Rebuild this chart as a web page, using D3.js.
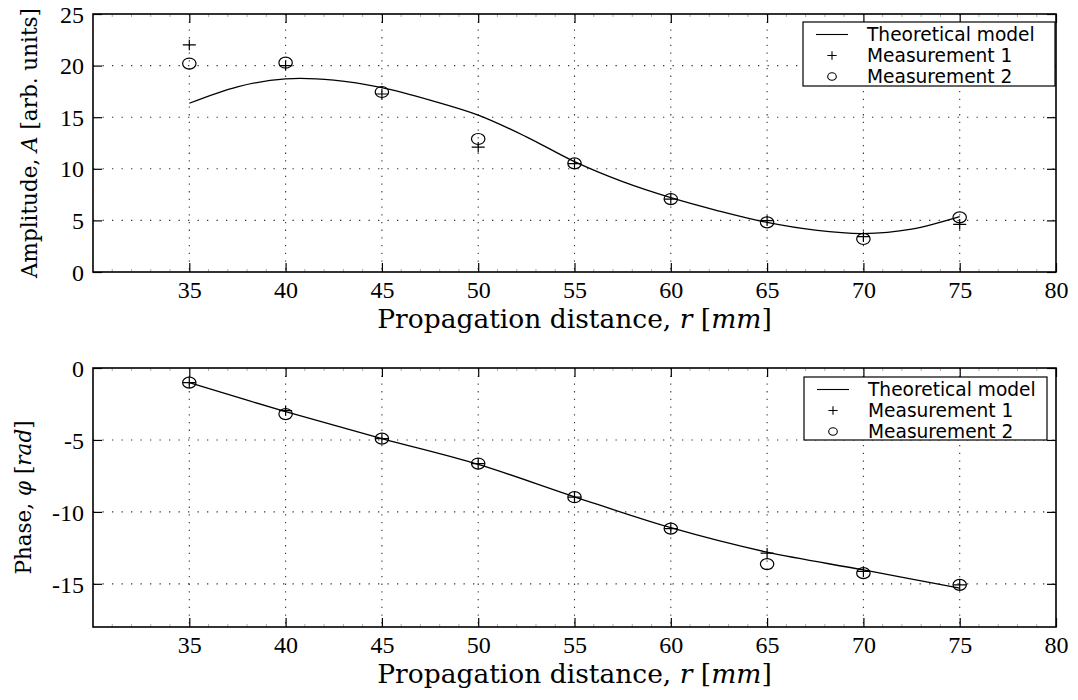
<!DOCTYPE html>
<html>
<head>
<meta charset="utf-8">
<script src="https://cdn.jsdelivr.net/npm/d3@7/dist/d3.min.js"></script>
<style>
  html, body { margin: 0; padding: 0; background: #fff; }
  svg { display: block; }
  .tick text { font-family: "Liberation Serif", serif !important; font-size: 24px !important; }
</style>
</head>
<body>
<svg id="chart" width="1078" height="700"></svg>
<script>
// ---------------- DATA ----------------
const xTicks = [35, 40, 45, 50, 55, 60, 65, 70, 75, 80];
const ampTicks = [0, 5, 10, 15, 20, 25];
const phaseTicks = [0, -5, -10, -15];

const distance = [35, 40, 45, 50, 55, 60, 65, 70, 75];
const ampMeas1 = [22.0, 20.0, 17.25, 12.1, 10.5, 7.07, 4.97, 3.42, 4.62];
const ampMeas2 = [20.2, 20.28, 17.44, 12.89, 10.53, 7.07, 4.81, 3.2, 5.3];
const phaseMeas1 = [-1.02, -2.96, -4.91, -6.64, -8.98, -11.16, -12.87, -14.14, -15.07];
const phaseMeas2 = [-1.02, -3.2, -4.91, -6.64, -8.98, -11.16, -13.63, -14.26, -15.07];

const ampModelR = [35, 37.5, 40, 42.5, 45, 47.5, 50, 52.5, 55, 57.5, 60, 62.5, 65, 67.5, 70, 72.5, 75];
const ampModel = [16.35, 17.95, 18.72, 18.6, 17.86, 16.65, 15.2, 13.1, 10.69, 8.75, 7.2, 5.91, 4.8, 4.05, 3.72, 4.15, 5.36];
const phaseModelR = [35, 40, 45, 50, 55, 60, 65, 70, 75];
const phaseModel = [-1.02, -3.03, -4.91, -6.7, -8.95, -11.1, -12.8, -14.03, -15.3];

const legendLabels = ["Theoretical model", "Measurement 1", "Measurement 2"];

// ---------------- DRAWING ----------------
const svg = d3.select("#chart");
const X0 = 93, X1 = 1056;
const x = d3.scaleLinear().domain([30, 80]).range([X0, X1]);

const serifTitle = "'DejaVu Serif', serif";
const sans = "'DejaVu Sans', 'Liberation Sans', sans-serif";

function addTspans(textSel, parts) {
  parts.forEach(p => {
    textSel.append("tspan").attr("font-style", p.i ? "italic" : "normal").text(p.t);
  });
}

function panel(cfg) {
  const y = d3.scaleLinear().domain(cfg.yDomain).range([cfg.bottom, cfg.top]);
  const g = svg.append("g");

  // grid
  const grid = g.append("g").attr("stroke", "#333").attr("stroke-width", 1.1);
  grid.selectAll("line.vg").data(xTicks.filter(t => t > 30 && t < 80)).join("line")
    .attr("x1", d => x(d)).attr("x2", d => x(d))
    .attr("y1", cfg.top).attr("y2", cfg.bottom)
    .attr("stroke-dasharray", "1.3,6.4");
  grid.selectAll("line.hg").data(cfg.yTicks.filter(t => t > cfg.yDomain[0] && t < cfg.yDomain[1])).join("line")
    .attr("x1", X0).attr("x2", X1)
    .attr("y1", d => y(d)).attr("y2", d => y(d))
    .attr("stroke-dasharray", "1.3,8.2");

  // minor x ticks
  const minor = d3.range(31, 80).filter(v => v % 5 !== 0);
  g.append("g").selectAll("line").data(minor).join("line")
    .attr("x1", d => x(d)).attr("x2", d => x(d))
    .attr("y1", cfg.bottom).attr("y2", cfg.bottom - 3)
    .attr("stroke", "#999").attr("stroke-width", 0.8);
  g.append("g").selectAll("line").data(minor).join("line")
    .attr("x1", d => x(d)).attr("x2", d => x(d))
    .attr("y1", cfg.top).attr("y2", cfg.top + 3)
    .attr("stroke", "#999").attr("stroke-width", 0.8);

  // axes
  const fmt = d => String(d);
  const ax = g.append("g").attr("transform", `translate(0,${cfg.bottom})`)
    .call(d3.axisBottom(x).tickValues(xTicks).tickSize(-9).tickPadding(9).tickFormat(fmt));
  const axT = g.append("g").attr("transform", `translate(0,${cfg.top})`)
    .call(d3.axisTop(x).tickValues(xTicks).tickSize(-9).tickFormat(""));
  const ayL = g.append("g").attr("transform", `translate(${X0},0)`)
    .call(d3.axisLeft(y).tickValues(cfg.yTicks).tickSize(-9).tickPadding(9).tickFormat(fmt));
  const ayR = g.append("g").attr("transform", `translate(${X1},0)`)
    .call(d3.axisRight(y).tickValues(cfg.yTicks).tickSize(-9).tickFormat(""));
  [ax, axT, ayL, ayR].forEach(a => {
    a.select(".domain").remove();
    a.attr("font-family", null).attr("font-size", null);
    a.selectAll(".tick line").attr("stroke", "#000").attr("stroke-width", 1.2);
    a.selectAll(".tick text").attr("fill", "#000");
  });
  ayL.selectAll(".tick text").attr("dy", "0.34em");

  // frame
  g.append("rect").attr("x", X0).attr("y", cfg.top)
    .attr("width", X1 - X0).attr("height", cfg.bottom - cfg.top)
    .attr("fill", "none").attr("stroke", "#000").attr("stroke-width", 1.6);

  // model curve
  const line = d3.line().x(d => x(d[0])).y(d => y(d[1])).curve(d3.curveCatmullRom.alpha(0.5));
  g.append("path").datum(cfg.modelR.map((r, i) => [r, cfg.model[i]]))
    .attr("d", line).attr("fill", "none").attr("stroke", "#000").attr("stroke-width", 1.3);

  // markers
  const plusPath = (cx, cy, hw, hh) => `M${cx - hw},${cy}H${cx + hw}M${cx},${cy - hh}V${cy + hh}`;
  g.append("g").selectAll("path").data(distance.map((r, i) => [r, cfg.m1[i]])).join("path")
    .attr("d", d => plusPath(x(d[0]), y(d[1]), 6.5, 5.2))
    .attr("stroke", "#000").attr("stroke-width", 1.2).attr("fill", "none");
  g.append("g").selectAll("ellipse").data(distance.map((r, i) => [r, cfg.m2[i]])).join("ellipse")
    .attr("cx", d => x(d[0])).attr("cy", d => y(d[1]))
    .attr("rx", 6.7).attr("ry", 5.5)
    .attr("stroke", "#000").attr("stroke-width", 1.2).attr("fill", "none");

  // x title
  const xt = g.append("text").attr("x", (X0 + X1) / 2).attr("y", cfg.bottom + 56)
    .attr("text-anchor", "middle").attr("font-family", serifTitle).attr("font-size", 26.5).attr("fill", "#000");
  addTspans(xt, [{t: "Propagation distance, "}, {t: "r", i: true}, {t: " ["}, {t: "mm", i: true}, {t: "]"}]);

  // y title
  const yt = g.append("text")
    .attr("transform", `translate(${cfg.ylabelX},${(cfg.top + cfg.bottom) / 2}) rotate(-90)`)
    .attr("text-anchor", "middle").attr("font-family", serifTitle).attr("font-size", 21.5).attr("fill", "#000");
  addTspans(yt, cfg.ylabel);

  // legend
  const L = cfg.legend;
  const lg = g.append("g");
  lg.append("rect").attr("x", L.x).attr("y", L.y).attr("width", L.w).attr("height", L.h)
    .attr("fill", "#fff").attr("stroke", "#000").attr("stroke-width", 1.2);
  const rows = [L.y + 12.5, L.y + 33.5, L.y + 54.5];
  const symX = L.x + 29;
  lg.append("line").attr("x1", L.x + 13).attr("x2", L.x + 45).attr("y1", rows[0]).attr("y2", rows[0])
    .attr("stroke", "#000").attr("stroke-width", 1.1);
  lg.append("path").attr("d", plusPath(symX, rows[1], 4.6, 4.2)).attr("stroke", "#000").attr("stroke-width", 1.1);
  lg.append("ellipse").attr("cx", symX).attr("cy", rows[2]).attr("rx", 4.3).attr("ry", 3.7)
    .attr("fill", "none").attr("stroke", "#000").attr("stroke-width", 1.1);
  lg.selectAll("text.lt").data(legendLabels).join("text")
    .attr("x", L.x + 64).attr("y", (d, i) => rows[i]).attr("dy", "0.36em")
    .attr("font-family", sans).attr("font-size", 18.6).attr("fill", "#000")
    .text(d => d);
}

panel({
  top: 14, bottom: 272, yDomain: [0, 25], yTicks: ampTicks,
  m1: ampMeas1, m2: ampMeas2, modelR: ampModelR, model: ampModel,
  ylabel: [{t: "Amplitude, "}, {t: "A", i: true}, {t: " [arb. units]"}], ylabelX: 37,
  legend: {x: 803, y: 22, w: 252, h: 64}
});
panel({
  top: 368, bottom: 627, yDomain: [-18, 0], yTicks: phaseTicks,
  m1: phaseMeas1, m2: phaseMeas2, modelR: phaseModelR, model: phaseModel,
  ylabel: [{t: "Phase, "}, {t: "φ", i: true}, {t: " ["}, {t: "rad", i: true}, {t: "]"}], ylabelX: 31,
  legend: {x: 804, y: 377, w: 243, h: 63}
});
</script>
</body>
</html>
